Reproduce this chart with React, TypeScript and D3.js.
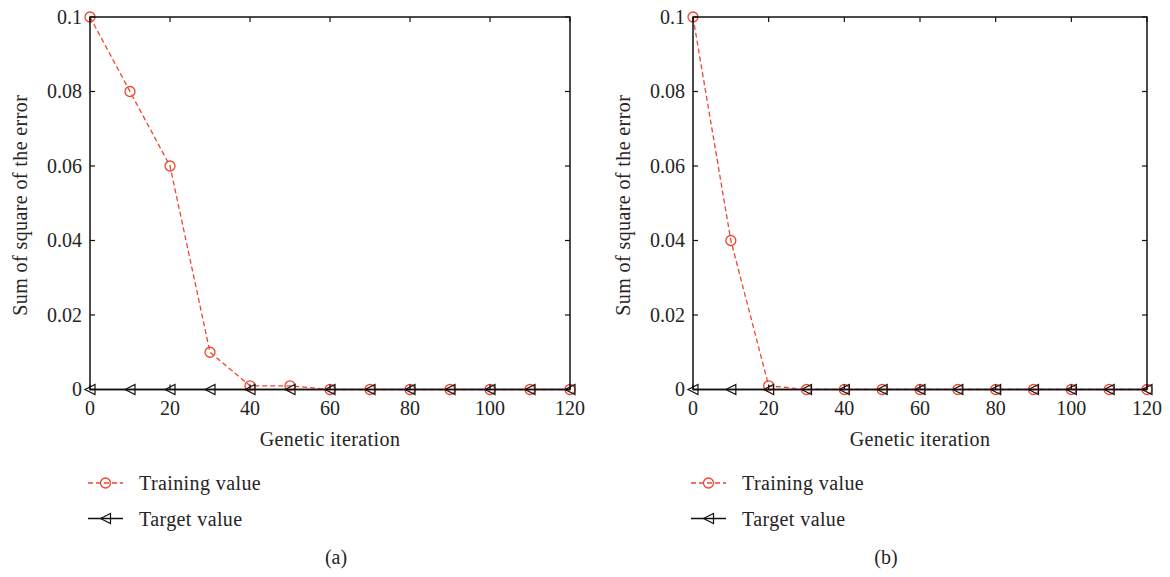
import React from "react";
import * as d3 from "d3";

const iterations = [0, 10, 20, 30, 40, 50, 60, 70, 80, 90, 100, 110, 120];
const trainingA = [0.1, 0.08, 0.06, 0.01, 0.001, 0.001, 0, 0, 0, 0, 0, 0, 0];
const trainingB = [0.1, 0.04, 0.001, 0, 0, 0, 0, 0, 0, 0, 0, 0, 0];
const targetValues = [0, 0, 0, 0, 0, 0, 0, 0, 0, 0, 0, 0, 0];
const xTicks = [0, 20, 40, 60, 80, 100, 120];
const yTicks = [0, 0.02, 0.04, 0.06, 0.08, 0.1];
const legendLabels = ["Training value", "Target value"];
const panelLabels = ["(a)", "(b)"];

const RED = "#f0442e";
const TXT = "#262324";
const FONT = "'Liberation Serif', 'DejaVu Serif', serif";
const FS = 20;
const LS = 0.4;

function Panel({ left, right, training, label, labelX }: { left: number; right: number; training: number[]; label: string; labelX: number }) {
  const top = 17;
  const bottom = 389.5;
  const x = d3.scaleLinear().domain([0, 120]).range([left, right]);
  const y = d3.scaleLinear().domain([0, 0.1]).range([bottom, top]);
  const line = d3.line<number>().x((_, i) => x(iterations[i])).y((d) => y(d));
  const tri = (cx: number, cy: number, s = 5) => `M${cx - s},${cy} L${cx + s},${cy - s} L${cx + s},${cy + s} Z`;
  const cx = (left + right) / 2;
  const tl = 5;
  return (
    <g fontFamily={FONT} fill={TXT}>
      <path d={line(targetValues) || ""} fill="none" stroke="#111" strokeWidth={1.3} />
      <path d={line(training) || ""} fill="none" stroke={RED} strokeWidth={1.3} strokeDasharray="5,3" />
      {training.map((v, i) => (
        <circle key={"c" + i} cx={x(iterations[i])} cy={y(v)} r={5} fill="none" stroke={RED} strokeWidth={1.3} />
      ))}
      {targetValues.map((v, i) => (
        <path key={"t" + i} d={tri(x(iterations[i]), y(v))} fill="none" stroke="#111" strokeWidth={1.2} />
      ))}
      <rect x={left} y={top} width={right - left} height={bottom - top} fill="none" stroke="#111" strokeWidth={1.5} />
      {xTicks.map((t) => (
        <g key={"xt" + t}>
          <line x1={x(t)} x2={x(t)} y1={bottom} y2={bottom - tl} stroke="#111" strokeWidth={1.2} />
          <line x1={x(t)} x2={x(t)} y1={top} y2={top + tl} stroke="#111" strokeWidth={1.2} />
          <text x={x(t)} y={bottom + 25} textAnchor="middle" fontSize={FS} fill={TXT}>{t}</text>
        </g>
      ))}
      {yTicks.map((t) => (
        <g key={"yt" + t}>
          <line x1={left} x2={left + tl} y1={y(t)} y2={y(t)} stroke="#111" strokeWidth={1.2} />
          <line x1={right} x2={right - tl} y1={y(t)} y2={y(t)} stroke="#111" strokeWidth={1.2} />
          <text x={left - 8} y={y(t) + 6.5} textAnchor="end" fontSize={FS} fill={TXT}>{String(+t.toFixed(2))}</text>
        </g>
      ))}
      <text x={cx} y={446} textAnchor="middle" fontSize={FS} letterSpacing={LS} fill={TXT}>Genetic iteration</text>
      <text transform={`translate(${left - 63},${(top + bottom) / 2 + 2}) rotate(-90)`} textAnchor="middle" fontSize={FS} letterSpacing={LS} fill={TXT}>Sum of square of the error</text>
      <line x1={left - 2} x2={left + 33} y1={483} y2={483} stroke={RED} strokeWidth={1.3} strokeDasharray="5,3" />
      <circle cx={left + 15.5} cy={483} r={5} fill="none" stroke={RED} strokeWidth={1.3} />
      <text x={left + 49} y={490} fontSize={FS} letterSpacing={LS} fill={TXT}>{legendLabels[0]}</text>
      <line x1={left - 2} x2={left + 33} y1={518.5} y2={518.5} stroke="#111" strokeWidth={1.3} />
      <path d={tri(left + 15.5, 518.5)} fill="none" stroke="#111" strokeWidth={1.2} />
      <text x={left + 49} y={526} fontSize={FS} letterSpacing={LS} fill={TXT}>{legendLabels[1]}</text>
      <text x={labelX} y={564} textAnchor="middle" fontSize={20} fill={TXT}>{label}</text>
    </g>
  );
}

export default function App() {
  return (
    <svg width={1170} height={577} style={{ position: "absolute", left: 0, top: 0, background: "#fff" }}>
      <Panel left={90} right={570} training={trainingA} label={panelLabels[0]} labelX={336} />
      <Panel left={693} right={1147} training={trainingB} label={panelLabels[1]} labelX={886} />
    </svg>
  );
}
